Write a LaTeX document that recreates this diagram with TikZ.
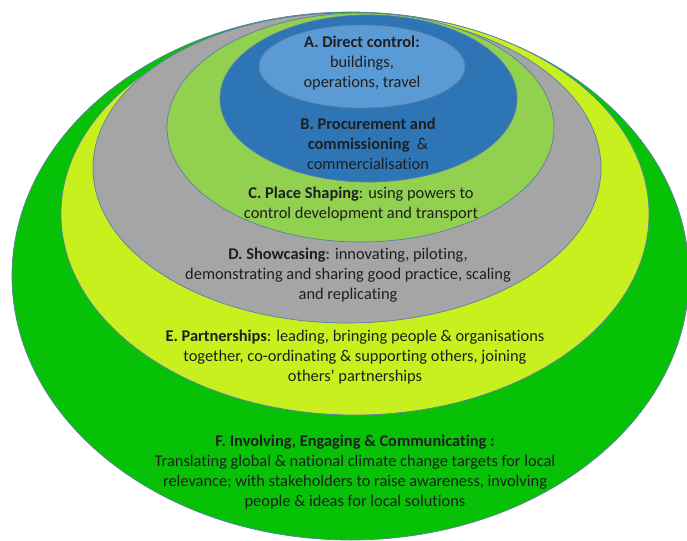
\documentclass[tikz,border=0pt]{standalone}
\usepackage{fontspec}
\setmainfont{Carlito}[Ligatures={TeX,NoCommon}]
\usepackage{tikz}
\usetikzlibrary{positioning}
\definecolor{skyblue}{HTML}{5B9BD5}
\definecolor{deepblue}{HTML}{2E75B6}
\definecolor{leafgreen}{HTML}{92D050}
\definecolor{stonegrey}{HTML}{A5A5A5}
\definecolor{limegreen}{HTML}{C8F01E}
\definecolor{grassgreen}{HTML}{06C106}
\definecolor{edgeblue}{HTML}{5B7FA6}
\tikzset{
  ring/.style={draw=edgeblue, line width=0.7pt},
  lbl/.style={align=center, inner sep=0pt, text=black!88,
    font=\fontsize{16.4}{20}\selectfont}
}

\begin{document}
\begin{tikzpicture}[x=1pt, y=-1pt]
      \useasboundingbox (0,0) rectangle (687,540);
      \clip (0,0) rectangle (687,540);
      % rings, outermost first
      \fill[grassgreen, ring] (350.5,276) ellipse [x radius=338.5, y radius=264];
      \fill[limegreen, ring] (355,214) ellipse [x radius=294, y radius=201];
      \fill[stonegrey, ring] (347,168) ellipse [x radius=254, y radius=155];
      \fill[leafgreen, ring] (360.5,127.5) ellipse [x radius=193.5, y radius=114.5];
      \fill[deepblue, ring] (368.5,98.5) ellipse [x radius=148.5, y radius=83.5];
      \fill[skyblue, ring] (362,66.5) ellipse [x radius=103, y radius=41.5];

      \node[lbl] (direct) at (362,63) {\textbf{A. Direct control:}\\ buildings,\\ operations, travel};
      \node[lbl] (procure) at (368,144) {\textbf{B. Procurement and}\\ \textbf{commissioning}\ \ \&\\ commercialisation};
      \node[lbl] (place) at (361,204.5) {\textbf{C. Place Shaping}: using powers to\\ control development and transport};
      \node[lbl] (showcase) at (348,275) {\textbf{D. Showcasing}: innovating, piloting,\\ demonstrating and sharing good practice, scaling\\ and replicating};
      \node[lbl] (partner) at (355,357) {\textbf{E. Partnerships}: leading, bringing people \& organisations\\ together, co-ordinating \& supporting others, joining\\ others' partnerships};
      \node[lbl] (involve) at (355,472) {\textbf{F. Involving, Engaging \& Communicating :}\\ Translating global \& national climate change targets for local\\ relevance; with stakeholders to raise awareness, involving\\ people \& ideas for local solutions};
    \end{tikzpicture}
\end{document}
